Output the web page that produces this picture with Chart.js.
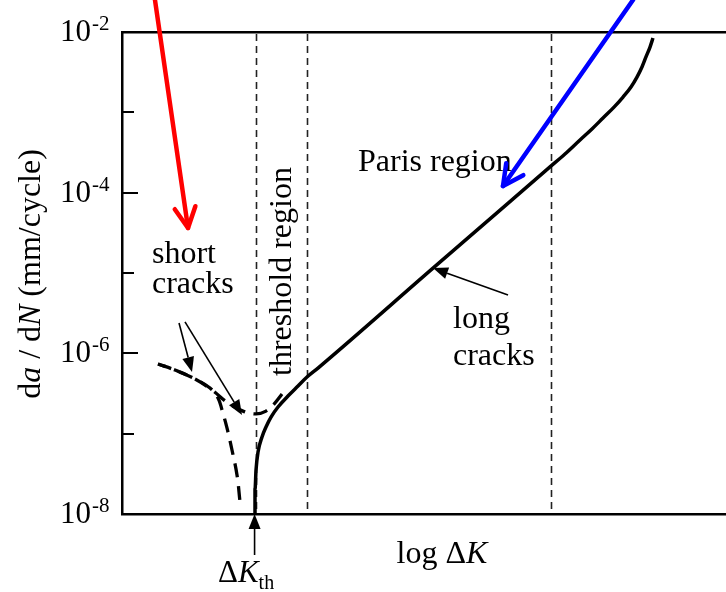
<!DOCTYPE html>
<html><head><meta charset="utf-8">
<script src="https://cdn.jsdelivr.net/npm/chart.js@4.4.1/dist/chart.umd.min.js"></script>
<style>html,body{margin:0;padding:0;background:#fff;overflow:hidden}canvas{display:block}</style>
</head><body>
<canvas id="c" width="726" height="592"></canvas>
<script>
// ---- data (x: log ΔK in arbitrary units 0..100, y: da/dN in mm/cycle) ----
const longCrackK    = [22.02, 22.02, 22.19, 22.52, 23.18, 23.84, 24.67, 25.83, 27.48, 29.14, 30.63, 32.45, 51.49, 70.86, 73.34, 75.83, 77.81, 79.64, 81.46, 82.95, 84.27, 85.26, 86.09, 86.75, 87.42, 87.91];
const longCrackRate = [1.0e-8, 1.99e-8, 3.53e-8, 5.91e-8, 9.10e-8, 1.21e-7, 1.61e-7, 2.15e-7, 2.94e-7, 3.92e-7, 5.07e-7, 6.56e-7, 1.15e-5, 2.09e-4, 3.03e-4, 4.53e-4, 6.21e-4, 8.50e-4, 1.16e-3, 1.55e-3, 2.07e-3, 2.75e-3, 3.67e-3, 4.89e-3, 6.50e-3, 8.41e-3];
const shortCrackAK    = [5.96, 8.77, 12.09, 14.57, 15.89, 16.56, 17.38, 18.21, 19.04, 19.54];
const shortCrackARate = [7.36e-7, 6.19e-7, 4.79e-7, 3.70e-7, 2.78e-7, 1.97e-7, 1.18e-7, 6.26e-8, 3.06e-8, 1.41e-8];
const shortCrackBK    = [5.96, 8.77, 12.09, 14.90, 17.55, 20.03, 22.19, 23.84, 25.17, 26.49];
const shortCrackBRate = [7.36e-7, 6.19e-7, 4.79e-7, 3.50e-7, 2.41e-7, 1.91e-7, 1.76e-7, 1.91e-7, 2.34e-7, 3.12e-7];
const regionBoundsK = [22.19, 30.63, 71.03];       // ΔK_th, end of threshold region, end of Paris region
const yMajorTicks = [1e-2, 1e-4, 1e-6, 1e-8];
const yMajorExps  = ['-2', '-4', '-6', '-8'];
const yMinorTicks = [1e-3, 1e-5, 1e-7];
const xRange = [0, 100];
const yRange = [1e-8, 1e-2];
const dKth = 21.95;

// annotation arrows in data units
const arrowsOpen = [
  {from:[5.46, 2.5e-2], to:[10.93, 3.63e-5], color:'#ff0000'},
  {from:[84.60, 2.5e-2], to:[63.08, 1.21e-4], color:'#0000ff'}
];
const arrowsThin = [
  {from:[9.44, 2.39e-6], to:[11.59, 5.86e-7]},
  {from:[10.43, 2.46e-6], to:[19.87, 1.71e-7]},
  {from:[63.91, 5.32e-6], to:[51.49, 1.15e-5]},
  {from:[dKth, 3.09e-9], to:[dKth, 1.0e-8]}
];

const toPts = (xs, ys) => xs.map((v, i) => ({x: v, y: ys[i]}));
const SERIF = '"Liberation Serif", "Times New Roman", serif';

function rich(ctx, parts, x, y, align) {
  let w = 0;
  parts.forEach(p => { ctx.font = p.f; w += ctx.measureText(p.t).width; });
  let cx = align === 'center' ? x - w / 2 : x;
  parts.forEach(p => {
    ctx.font = p.f; ctx.textAlign = 'left'; ctx.textBaseline = 'alphabetic';
    ctx.fillText(p.t, cx, y + (p.dy || 0));
    cx += ctx.measureText(p.t).width;
  });
}

function openArrow(ctx, x1, y1, x2, y2, color, width, len, ang) {
  ctx.save();
  ctx.strokeStyle = color; ctx.lineWidth = width; ctx.lineCap = 'round'; ctx.lineJoin = 'round';
  ctx.beginPath(); ctx.moveTo(x1, y1); ctx.lineTo(x2, y2); ctx.stroke();
  const a = Math.atan2(y1 - y2, x1 - x2);
  ctx.beginPath();
  ctx.moveTo(x2 + len * Math.cos(a + ang), y2 + len * Math.sin(a + ang));
  ctx.lineTo(x2, y2);
  ctx.lineTo(x2 + len * Math.cos(a - ang), y2 + len * Math.sin(a - ang));
  ctx.stroke();
  ctx.restore();
}
function filledArrow(ctx, x1, y1, x2, y2, width, len, half) {
  ctx.save();
  ctx.strokeStyle = '#000'; ctx.fillStyle = '#000'; ctx.lineWidth = width;
  const a = Math.atan2(y2 - y1, x2 - x1);
  const bx = x2 - len * Math.cos(a), by = y2 - len * Math.sin(a);
  ctx.beginPath(); ctx.moveTo(x1, y1); ctx.lineTo(bx, by); ctx.stroke();
  ctx.beginPath();
  ctx.moveTo(x2, y2);
  ctx.lineTo(bx + half * Math.sin(a), by - half * Math.cos(a));
  ctx.lineTo(bx - half * Math.sin(a), by + half * Math.cos(a));
  ctx.closePath(); ctx.fill();
  ctx.restore();
}

const annot = {
  id: 'annot',
  beforeDatasetsDraw(chart) {
    const {ctx, chartArea: a, scales: {x}} = chart;
    ctx.save();
    ctx.strokeStyle = '#222'; ctx.lineWidth = 1.6; ctx.setLineDash([7, 5]);
    regionBoundsK.forEach(k => {
      const px = Math.round(x.getPixelForValue(k)) + 0.5;
      ctx.beginPath(); ctx.moveTo(px, a.top + 2); ctx.lineTo(px, a.bottom); ctx.stroke();
    });
    ctx.restore();
  },
  afterDraw(chart) {
    const {ctx, chartArea: a, scales: {x, y}} = chart;
    ctx.save();
    ctx.fillStyle = '#000'; ctx.strokeStyle = '#000';
    // inward y ticks
    ctx.lineWidth = 2;
    yMajorTicks.forEach(v => { const py = Math.round(y.getPixelForValue(v)); ctx.beginPath(); ctx.moveTo(a.left, py); ctx.lineTo(a.left + 16, py); ctx.stroke(); });
    yMinorTicks.forEach(v => { const py = Math.round(y.getPixelForValue(v)); ctx.beginPath(); ctx.moveTo(a.left, py); ctx.lineTo(a.left + 12, py); ctx.stroke(); });
    // y tick labels 10^n
    yMajorTicks.forEach((v, i) => {
      const py = y.getPixelForValue(v);
      ctx.font = '31px ' + SERIF; ctx.textAlign = 'right'; ctx.textBaseline = 'alphabetic';
      ctx.fillText('10', a.left - 31, py + 9);
      ctx.font = '21px ' + SERIF; ctx.textAlign = 'left';
      ctx.fillText(yMajorExps[i], a.left - 30, py - 2);
    });
    // axis titles
    ctx.save();
    ctx.translate(40, (a.top + a.bottom) / 2 + 1);
    ctx.rotate(-Math.PI / 2);
    rich(ctx, [
      {t: 'd', f: '32px ' + SERIF}, {t: 'a', f: 'italic 32px ' + SERIF},
      {t: ' / d', f: '32px ' + SERIF}, {t: 'N', f: 'italic 32px ' + SERIF},
      {t: ' (mm/cycle)', f: '32px ' + SERIF}
    ], 0, 0, 'center');
    ctx.restore();
    rich(ctx, [{t: 'log \u0394', f: '32px ' + SERIF}, {t: 'K', f: 'italic 32px ' + SERIF}], 442, a.bottom + 49, 'center');
    rich(ctx, [{t: '\u0394', f: '31px ' + SERIF}, {t: 'K', f: 'italic 31px ' + SERIF}, {t: 'th', f: '20px ' + SERIF, dy: 7}], 218, a.bottom + 68, 'left');
    // region / curve labels
    ctx.font = '32px ' + SERIF; ctx.textAlign = 'left'; ctx.textBaseline = 'alphabetic';
    ctx.fillText('Paris region', 358, 171);
    ctx.fillText('short', 152, 263);
    ctx.fillText('cracks', 152, 293);
    ctx.fillText('long', 453, 328);
    ctx.fillText('cracks', 453, 365);
    ctx.save();
    ctx.translate(291, 271.5);
    ctx.rotate(-Math.PI / 2);
    ctx.textAlign = 'center';
    ctx.fillText('threshold region', 0, 0);
    ctx.restore();
    // arrows
    arrowsThin.forEach(ar => {
      filledArrow(ctx, x.getPixelForValue(ar.from[0]), y.getPixelForValue(ar.from[1]),
        x.getPixelForValue(ar.to[0]), y.getPixelForValue(ar.to[1]), 1.6, 15, 6);
    });
    arrowsOpen.forEach(ar => {
      openArrow(ctx, x.getPixelForValue(ar.from[0]), y.getPixelForValue(ar.from[1]),
        x.getPixelForValue(ar.to[0]), y.getPixelForValue(ar.to[1]), ar.color, 4.5, 23, 0.47);
    });
    ctx.restore();
  }
};

const axisCommon = {
  ticks: {display: false},
  grid: {display: false, drawTicks: false},
  border: {display: true, color: '#000', width: 2.5},
  title: {display: false}
};

new Chart(document.getElementById('c'), {
  type: 'scatter',
  data: {
    datasets: [
      {label: 'long cracks', data: toPts(longCrackK, longCrackRate), showLine: true, borderColor: '#000', borderWidth: 3.5, pointRadius: 0, cubicInterpolationMode: 'monotone', fill: false},
      {label: 'short cracks A', data: toPts(shortCrackAK, shortCrackARate), showLine: true, borderColor: '#000', borderWidth: 3.3, borderDash: [14, 9], pointRadius: 0, tension: 0.4, fill: false},
      {label: 'short cracks B', data: toPts(shortCrackBK, shortCrackBRate), showLine: true, borderColor: '#000', borderWidth: 3.3, borderDash: [14, 9], borderDashOffset: 6, pointRadius: 0, tension: 0.4, fill: false}
    ]
  },
  options: {
    responsive: false, animation: false, devicePixelRatio: 1,
    layout: {padding: {left: 122, top: 32, right: 0, bottom: 78}},
    plugins: {legend: {display: false}, tooltip: {enabled: false}},
    scales: {
      x: Object.assign({type: 'linear', position: 'bottom', min: xRange[0], max: xRange[1]}, axisCommon),
      x2: Object.assign({type: 'linear', position: 'top', min: xRange[0], max: xRange[1]}, axisCommon),
      y: Object.assign({type: 'logarithmic', position: 'left', min: yRange[0], max: yRange[1]}, axisCommon)
    }
  },
  plugins: [annot]
});
</script>
</body></html>
